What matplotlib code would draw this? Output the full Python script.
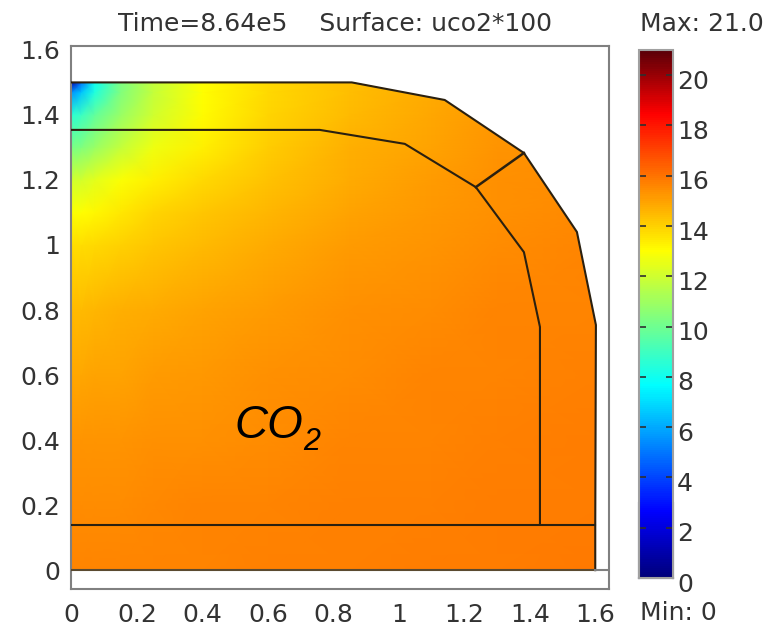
import numpy as np
import matplotlib
matplotlib.use("Agg")
import matplotlib.pyplot as plt
from matplotlib.colors import LinearSegmentedColormap, Normalize
from matplotlib.cm import ScalarMappable
from matplotlib.patches import Polygon
from matplotlib.transforms import ScaledTranslation

plt.rcParams['font.family'] = ['DejaVu Sans']

# values (uco2*100)
x_grid = [0, 0.03, 0.07, 0.15, 0.25, 0.4, 0.6, 0.85, 1.1, 1.3, 1.62]
y_grid = [0, 0.2, 0.4, 0.6, 0.8, 1.0, 1.1, 1.2, 1.3, 1.4, 1.47, 1.5]
row_000 = [15.6, 15.6, 15.6, 15.6, 15.6, 15.65, 15.7, 15.7, 15.75, 15.8, 15.85]
row_020 = [15.5, 15.5, 15.5, 15.5, 15.55, 15.6, 15.6, 15.7, 15.7, 15.75, 15.8]
row_040 = [15.3, 15.3, 15.3, 15.3, 15.35, 15.4, 15.5, 15.6, 15.65, 15.7, 15.75]
row_060 = [14.9, 14.9, 15.0, 15.0, 15.1, 15.2, 15.35, 15.5, 15.6, 15.65, 15.7]
row_080 = [14.5, 14.5, 14.6, 14.7, 14.8, 15.0, 15.15, 15.35, 15.5, 15.6, 15.65]
row_100 = [13.7, 13.7, 13.8, 14.0, 14.2, 14.5, 14.8, 15.1, 15.3, 15.5, 15.6]
row_110 = [12.9, 13.0, 13.2, 13.5, 13.9, 14.2, 14.6, 15.0, 15.2, 15.4, 15.55]
row_120 = [12.0, 12.1, 12.4, 12.9, 13.3, 13.8, 14.3, 14.8, 15.1, 15.35, 15.5]
row_130 = [10.2, 10.4, 10.9, 11.8, 12.7, 13.3, 14.1, 14.7, 15.0, 15.3, 15.45]
row_140 = [8.6, 8.9, 9.7, 10.9, 12.0, 13.1, 13.9, 14.5, 14.9, 15.2, 15.4]
row_147 = [5.5, 6.5, 8.3, 10.4, 11.8, 13.0, 13.8, 14.4, 14.8, 15.1, 15.35]
row_150 = [1.0, 5.0, 8.0, 10.3, 11.8, 13.0, 13.8, 14.4, 14.8, 15.1, 15.3]
conc = [row_000, row_020, row_040, row_060, row_080, row_100,
        row_110, row_120, row_130, row_140, row_147, row_150]

# domain outlines
outer_x = [0, 0, 0.856, 1.14, 1.382, 1.544, 1.602, 1.6, 1.6]
outer_y = [0, 1.5, 1.5, 1.446, 1.283, 1.04, 0.754, 0.14, 0]
inner_x = [0, 0.758, 1.018, 1.235, 1.382, 1.431, 1.431]
inner_y = [1.354, 1.354, 1.311, 1.178, 0.978, 0.748, 0.14]
base_x = [0, 1.6]
base_y = [0.14, 0.14]
bottom_x = [0, 1.6]
bottom_y = [0, 0]
stub_x = [1.6, 1.635]
stub_y = [0, 0]
radial_x = [1.235, 1.382]
radial_y = [1.178, 1.283]

x_ticks = [0, 0.2, 0.4, 0.6, 0.8, 1, 1.2, 1.4, 1.6]
x_labels = ['0', '0.2', '0.4', '0.6', '0.8', '1', '1.2', '1.4', '1.6']
y_ticks = [0, 0.2, 0.4, 0.6, 0.8, 1, 1.2, 1.4, 1.6]
y_labels = ['0', '0.2', '0.4', '0.6', '0.8', '1', '1.2', '1.4', '1.6']
bar_ticks = [0, 2, 4, 6, 8, 10, 12, 14, 16, 18, 20]

cmap = LinearSegmentedColormap.from_list('comsol', [
    (0.0, '#00007a'), (0.125, '#0000ff'), (0.365, '#00ffff'),
    (0.62, '#ffff00'), (0.88, '#ff0000'), (1.0, '#5a0008')])
norm = Normalize(0, 21)
text_col = '#333333'
frame_col = '#808080'

fig = plt.figure(figsize=(7.78, 6.30), dpi=100)
ax = fig.add_axes([71/778, 1-589/630, 538/778, 543/630])

mesh = ax.pcolormesh(x_grid, y_grid, np.array(conc), cmap=cmap, norm=norm,
                     shading='gouraud', zorder=1)
clip = Polygon(np.column_stack([outer_x, outer_y]), closed=True,
               transform=ax.transData, fc='none', ec='none')
ax.add_patch(clip)
mesh.set_clip_path(clip)

line_col = '#2a2010'
ax.plot(outer_x[1:], outer_y[1:], color=line_col, lw=1.5, zorder=3)
ax.plot(inner_x, inner_y, color=line_col, lw=1.5, zorder=3)
ax.plot(base_x, base_y, color=line_col, lw=1.5, zorder=3)
ax.plot(bottom_x, bottom_y, color='#5a4a30', lw=1.5, zorder=3)
ax.plot(stub_x, stub_y, color=frame_col, lw=1.5, zorder=3)
ax.plot(radial_x, radial_y, color=line_col, lw=1.8, zorder=3)

ax.set_xlim(-0.002, 1.642)
ax.set_ylim(-0.058, 1.612)
ax.set_xticks(x_ticks)
ax.set_xticklabels(x_labels)
ax.set_yticks(y_ticks)
ax.set_yticklabels(y_labels)
ax.tick_params(length=0, labelsize=18, labelcolor=text_col, pad=10)
ax.tick_params(axis='y', pad=8)
for s in ax.spines.values():
    s.set_color(frame_col)
    s.set_linewidth(1.5)

fig.text(335/778, 1-24/630, 'Time=8.64e5    Surface: uco2*100', ha='center', va='center',
         fontsize=18, color=text_col)
ax.text(0.498, 0.406, 'CO', fontsize=33, color='black', family='Liberation Sans',
        style='italic', ha='left', va='baseline', zorder=4)
ax.text(0.708, 0.369, '2', fontsize=22, color='black', family='Liberation Sans',
        style='italic', ha='left', va='baseline', zorder=4)

cax = fig.add_axes([639/778, 1-578/630, 34/778, 528/630])
cb = fig.colorbar(ScalarMappable(norm=norm, cmap=cmap), cax=cax, ticks=bar_ticks)
cb.outline.set_edgecolor('#a0a0a0')
cb.outline.set_linewidth(1.5)
cax.tick_params(axis='y', which='major', direction='in', left=True, right=True,
                length=5, width=1.2, color='#303030', labelsize=18,
                labelcolor=text_col, pad=3)
shift = ScaledTranslation(0, -4/100, fig.dpi_scale_trans)
for lab in cax.get_yticklabels():
    lab.set_transform(lab.get_transform() + shift)
edge = cax.get_yaxis_transform()
cax.plot([0, 0], [0, 3], color='#101030', lw=1.5, clip_on=False, transform=edge)
cax.plot([1, 1], [0, 3], color='#101030', lw=1.5, clip_on=False, transform=edge)
cax.plot([0, 1], [0, 0], color='#101030', lw=1.5, clip_on=False, transform=edge)

fig.text(640/778, 1-24/630, 'Max: 21.0', fontsize=18, color=text_col, ha='left', va='center')
fig.text(640/778, 1-613/630, 'Min: 0', fontsize=18, color=text_col, ha='left', va='center')

fig.savefig('out.png', dpi=100)
